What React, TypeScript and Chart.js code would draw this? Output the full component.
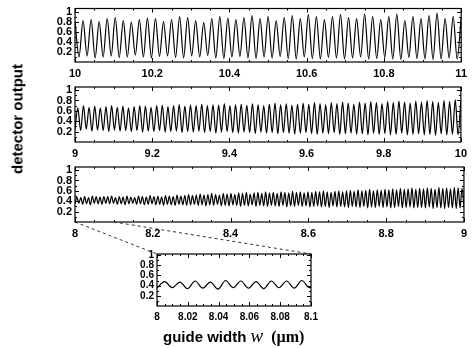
import React, { useEffect, useRef } from "react";
import { Chart, registerables } from "chart.js";

Chart.register(...registerables);

// ---------- data (extrema) ----------
// Panel 1: w = 10 .. 11 um, starts on a peak
const p1Peaks = [
  0.80, 0.82, 0.84, 0.80, 0.86, 0.88, 0.82, 0.79, 0.84, 0.87, 0.86, 0.80,
  0.84, 0.90, 0.88, 0.82, 0.78, 0.86, 0.90, 0.87, 0.84, 0.88, 0.92, 0.86,
  0.90, 0.82, 0.88, 0.92, 0.86, 0.94, 0.90, 0.84, 0.90, 0.94, 0.88, 0.86,
  0.95, 0.90, 0.84, 0.90, 0.95, 0.82, 0.90, 0.86, 0.92, 0.97, 0.86, 0.90,
  0.88,
];
const p1Troughs = [
  0.10, 0.12, 0.08, 0.10, 0.12, 0.09, 0.10, 0.14, 0.10, 0.08, 0.11, 0.12,
  0.09, 0.08, 0.12, 0.10, 0.13, 0.08, 0.07, 0.10, 0.11, 0.08, 0.07, 0.10,
  0.08, 0.11, 0.07, 0.06, 0.10, 0.07, 0.06, 0.09, 0.08, 0.06, 0.08, 0.10,
  0.06, 0.07, 0.09, 0.06, 0.05, 0.09, 0.07, 0.06, 0.05, 0.06, 0.08, 0.06,
];

// Panel 2: w = 9 .. 10 um, starts on a trough
const p2Troughs = [
  0.24, 0.22, 0.25, 0.21, 0.23, 0.22, 0.20, 0.23, 0.21, 0.22,
  0.20, 0.22, 0.19, 0.21, 0.20, 0.22, 0.19, 0.20, 0.21, 0.18,
  0.20, 0.19, 0.21, 0.18, 0.20, 0.17, 0.19, 0.20, 0.18, 0.17,
  0.19, 0.18, 0.16, 0.19, 0.17, 0.18, 0.16, 0.18, 0.17, 0.15,
  0.17, 0.18, 0.16, 0.15, 0.17, 0.16, 0.18, 0.15, 0.16, 0.17,
  0.15, 0.16, 0.14, 0.17, 0.15, 0.16, 0.14, 0.15, 0.17, 0.14,
  0.15, 0.16, 0.14, 0.15, 0.13, 0.16, 0.14, 0.15, 0.14,
];
const p2Peaks = [
  0.66, 0.70, 0.67, 0.69, 0.66, 0.68, 0.70, 0.67, 0.69, 0.66,
  0.68, 0.70, 0.69, 0.67, 0.70, 0.71, 0.68, 0.70, 0.72, 0.69,
  0.71, 0.70, 0.73, 0.70, 0.72, 0.71, 0.74, 0.70, 0.72, 0.73,
  0.71, 0.74, 0.72, 0.70, 0.73, 0.75, 0.72, 0.74, 0.71, 0.73,
  0.75, 0.73, 0.76, 0.74, 0.72, 0.76, 0.74, 0.77, 0.75, 0.73,
  0.77, 0.75, 0.78, 0.76, 0.74, 0.78, 0.76, 0.79, 0.77, 0.75,
  0.79, 0.77, 0.80, 0.78, 0.76, 0.80, 0.78, 0.81, 0.80,
];

// Panel 3: w = 8 .. 9 um, starts on a trough (also shown in the inset)
const p3Troughs = [
  0.35, 0.36, 0.34, 0.35, 0.33, 0.36, 0.35, 0.34, 0.36, 0.35,
  0.36, 0.34, 0.35, 0.33, 0.35, 0.36, 0.34, 0.35, 0.33, 0.34,
  0.35, 0.33, 0.34, 0.32, 0.34, 0.33, 0.32, 0.34, 0.33, 0.32,
  0.33, 0.34, 0.32, 0.33, 0.31, 0.33, 0.32, 0.34, 0.31, 0.32,
  0.31, 0.33, 0.32, 0.30, 0.32, 0.31, 0.33, 0.30, 0.32, 0.31,
  0.30, 0.32, 0.31, 0.30, 0.32, 0.29, 0.31, 0.30, 0.32, 0.30,
  0.31, 0.29, 0.30, 0.31, 0.29, 0.30, 0.28, 0.31, 0.29, 0.30,
  0.29, 0.28, 0.30, 0.29, 0.28, 0.30, 0.27, 0.29, 0.28, 0.30,
  0.28, 0.29, 0.27, 0.28, 0.30, 0.27, 0.28, 0.29, 0.27, 0.28,
  0.28, 0.27, 0.29, 0.26, 0.28, 0.27, 0.26, 0.28, 0.27, 0.26,
  0.27, 0.30,
];
const p3Peaks = [
  0.48, 0.47, 0.49, 0.47, 0.50, 0.49, 0.48, 0.49, 0.49, 0.50,
  0.47, 0.49, 0.48, 0.50, 0.48, 0.47, 0.50, 0.49, 0.48, 0.51,
  0.49, 0.50, 0.48, 0.51, 0.50, 0.49, 0.52, 0.50, 0.51, 0.53,
  0.51, 0.52, 0.54, 0.52, 0.53, 0.55, 0.53, 0.52, 0.55, 0.54,
  0.55, 0.53, 0.56, 0.55, 0.57, 0.54, 0.56, 0.57, 0.55, 0.58,
  0.56, 0.57, 0.55, 0.58, 0.57, 0.56, 0.59, 0.57, 0.58, 0.56,
  0.58, 0.57, 0.59, 0.58, 0.60, 0.58, 0.57, 0.59, 0.60, 0.58,
  0.60, 0.61, 0.59, 0.62, 0.60, 0.61, 0.63, 0.60, 0.62, 0.61,
  0.63, 0.62, 0.64, 0.62, 0.65, 0.63, 0.64, 0.66, 0.63, 0.65,
  0.64, 0.66, 0.65, 0.63, 0.67, 0.65, 0.66, 0.64, 0.67, 0.66, 0.65,
];

const yTickValues = [0.2, 0.4, 0.6, 0.8, 1];

// interleave two lists of extrema onto an even grid over [x0, x1]
function interleave(x0: number, x1: number, first: number[], second: number[]) {
  const vals: number[] = [];
  for (let i = 0; i < first.length; i++) {
    vals.push(first[i]);
    if (i < second.length) vals.push(second[i]);
  }
  const n = vals.length;
  return vals.map((y, i) => ({ x: x0 + ((x1 - x0) * i) / (n - 1), y }));
}

const FONT = '"Liberation Sans", Arial, Helvetica, sans-serif';
const SERIF = '"Liberation Serif", "Times New Roman", serif';
const W = 473;
const H = 348;

const framePlugin = {
  id: "frame",
  afterDatasetsDraw(chart: any, _args: any, opts: any) {
    const { ctx, chartArea: a, scales } = chart;
    const xs = scales.x;
    const ys = scales.y;
    ctx.save();
    ctx.strokeStyle = "#000";
    ctx.lineWidth = 1;
    ctx.beginPath();
    const xMinor = opts.xMinor;
    const xMajor = opts.xMajor;
    const nx = Math.round((xs.max - xs.min) / xMinor);
    for (let k = 0; k <= nx; k++) {
      const v = xs.min + k * xMinor;
      const r = (v - xs.min) / xMajor;
      const major = Math.abs(r - Math.round(r)) < 1e-6;
      const len = major ? 4 : 2;
      const px = Math.round(xs.getPixelForValue(v)) + 0.5;
      ctx.moveTo(px, a.bottom);
      ctx.lineTo(px, a.bottom - len);
      ctx.moveTo(px, a.top);
      ctx.lineTo(px, a.top + len);
    }
    for (let k = 1; k <= 10; k++) {
      const v = k * 0.1;
      const major = k % 2 === 0;
      const len = major ? 4 : 2;
      const py = Math.round(ys.getPixelForValue(v)) + 0.5;
      ctx.moveTo(a.left, py);
      ctx.lineTo(a.left + len, py);
      ctx.moveTo(a.right, py);
      ctx.lineTo(a.right - len, py);
    }
    ctx.stroke();
    ctx.lineWidth = 1.2;
    ctx.strokeRect(a.left, a.top, a.right - a.left, a.bottom - a.top);
    ctx.restore();
  },
};

type PanelCfg = {
  xmin: number;
  xmax: number;
  xstep: number;
  xMinor: number;
  ymax: number;
  fontSize: number;
  data: { x: number; y: number }[];
  padding: { left: number; right: number; top: number; bottom: number };
  extraPlugins?: any[];
};

const X_AXIS_H = 22;

function makeChart(canvas: HTMLCanvasElement, c: PanelCfg) {
  return new Chart(canvas, {
    type: "line",
    data: {
      datasets: [
        {
          data: c.data,
          borderColor: "#000",
          borderWidth: 1.2,
          pointRadius: 0,
          cubicInterpolationMode: "monotone",
          fill: false,
        },
      ],
    },
    options: {
      animation: false,
      responsive: false,
      events: [],
      layout: { padding: c.padding },
      plugins: {
        legend: { display: false },
        tooltip: { enabled: false },
        frame: { xMinor: c.xMinor, xMajor: c.xstep },
      } as any,
      scales: {
        x: {
          type: "linear",
          min: c.xmin,
          max: c.xmax,
          grid: { display: false, drawTicks: false },
          border: { display: false },
          afterFit: (s: any) => {
            s.height = X_AXIS_H;
          },
          ticks: {
            stepSize: c.xstep,
            autoSkip: false,
            maxRotation: 0,
            padding: 6,
            color: "#000",
            font: { family: FONT, size: c.fontSize, weight: "bold", lineHeight: 1 },
            callback: (v: any) => String(parseFloat(Number(v).toFixed(3))),
          },
        },
        y: {
          type: "linear",
          min: 0,
          max: c.ymax,
          grid: { display: false, drawTicks: false },
          border: { display: false },
          afterBuildTicks: (s: any) => {
            s.ticks = yTickValues.map((v) => ({ value: v }));
          },
          afterFit: (s: any) => {
            s.width = 30;
          },
          ticks: {
            autoSkip: false,
            padding: 3,
            color: "#000",
            font: { family: FONT, size: c.fontSize, weight: "bold", lineHeight: 1 },
            callback: (v: any) => String(parseFloat(Number(v).toFixed(2))),
          },
        },
      },
    },
    plugins: [framePlugin, ...(c.extraPlugins || [])],
  });
}

export default function App() {
  const r1 = useRef<HTMLCanvasElement>(null);
  const r2 = useRef<HTMLCanvasElement>(null);
  const r3 = useRef<HTMLCanvasElement>(null);
  const r4 = useRef<HTMLCanvasElement>(null);

  useEffect(() => {
    const d1 = interleave(10, 11, p1Peaks, p1Troughs);
    const d2 = interleave(9, 10, p2Troughs, p2Peaks);
    const d3 = interleave(8, 9, p3Troughs, p3Peaks);

    const c1 = makeChart(r1.current!, {
      xmin: 10, xmax: 11, xstep: 0.2, xMinor: 0.05, ymax: 1.06, fontSize: 11, data: d1,
      padding: { left: 45, right: 8, top: 7, bottom: H - 62 - X_AXIS_H },
    });
    const c2 = makeChart(r2.current!, {
      xmin: 9, xmax: 10, xstep: 0.2, xMinor: 0.05, ymax: 1.06, fontSize: 11, data: d2,
      padding: { left: 45, right: 8, top: 87, bottom: H - 142 - X_AXIS_H },
    });
    const c3 = makeChart(r3.current!, {
      xmin: 8, xmax: 9, xstep: 0.2, xMinor: 0.05, ymax: 1.06, fontSize: 11, data: d3,
      padding: { left: 45, right: 8, top: 167, bottom: H - 222 - X_AXIS_H },
    });

    const zoomLines = {
      id: "zoomLines",
      afterDraw(chart: any) {
        const { ctx, chartArea: a } = chart;
        const xs = c3.scales.x;
        const b = c3.chartArea.bottom;
        ctx.save();
        ctx.strokeStyle = "#000";
        ctx.lineWidth = 0.8;
        ctx.setLineDash([3, 3]);
        ctx.beginPath();
        ctx.moveTo(xs.getPixelForValue(8), b);
        ctx.lineTo(a.left, a.top);
        ctx.moveTo(xs.getPixelForValue(8.1), b);
        ctx.lineTo(a.right, a.top);
        ctx.stroke();
        ctx.restore();
      },
    };

    const c4 = makeChart(r4.current!, {
      xmin: 8, xmax: 8.1, xstep: 0.02, xMinor: 0.005, ymax: 1.02, fontSize: 10,
      data: d3.filter((p) => p.x <= 8.1 + 0.006),
      padding: { left: 127, right: W - 311, top: 254, bottom: H - 306 - X_AXIS_H },
      extraPlugins: [zoomLines],
    });

    return () => {
      c1.destroy();
      c2.destroy();
      c3.destroy();
      c4.destroy();
    };
  }, []);

  const cs: React.CSSProperties = { position: "absolute", left: 0, top: 0 };

  return (
    <div style={{ position: "absolute", left: 0, top: 0, width: W, height: H, background: "#fff", overflow: "hidden" }}>
      <canvas ref={r1} width={W} height={H} style={cs} />
      <canvas ref={r2} width={W} height={H} style={cs} />
      <canvas ref={r3} width={W} height={H} style={cs} />
      <canvas ref={r4} width={W} height={H} style={cs} />
      <div
        style={{
          position: "absolute",
          left: 17,
          top: 119,
          transform: "translate(-50%, -50%) rotate(-90deg)",
          whiteSpace: "nowrap",
          fontFamily: FONT,
          fontWeight: "bold",
          fontSize: 15,
          color: "#000",
          lineHeight: 1,
        }}
      >
        detector output
      </div>
      <div
        style={{
          position: "absolute",
          left: 163,
          top: 326,
          whiteSpace: "nowrap",
          color: "#000",
          lineHeight: 1,
        }}
      >
        <span style={{ fontFamily: FONT, fontWeight: "bold", fontSize: 15 }}>guide width </span>
        <span style={{ fontFamily: SERIF, fontStyle: "italic", fontSize: 19 }}>w</span>
        <span style={{ fontFamily: SERIF, fontWeight: "bold", fontSize: 16 }}>{"\u00a0\u00a0(\u00b5m)"}</span>
      </div>
    </div>
  );
}
